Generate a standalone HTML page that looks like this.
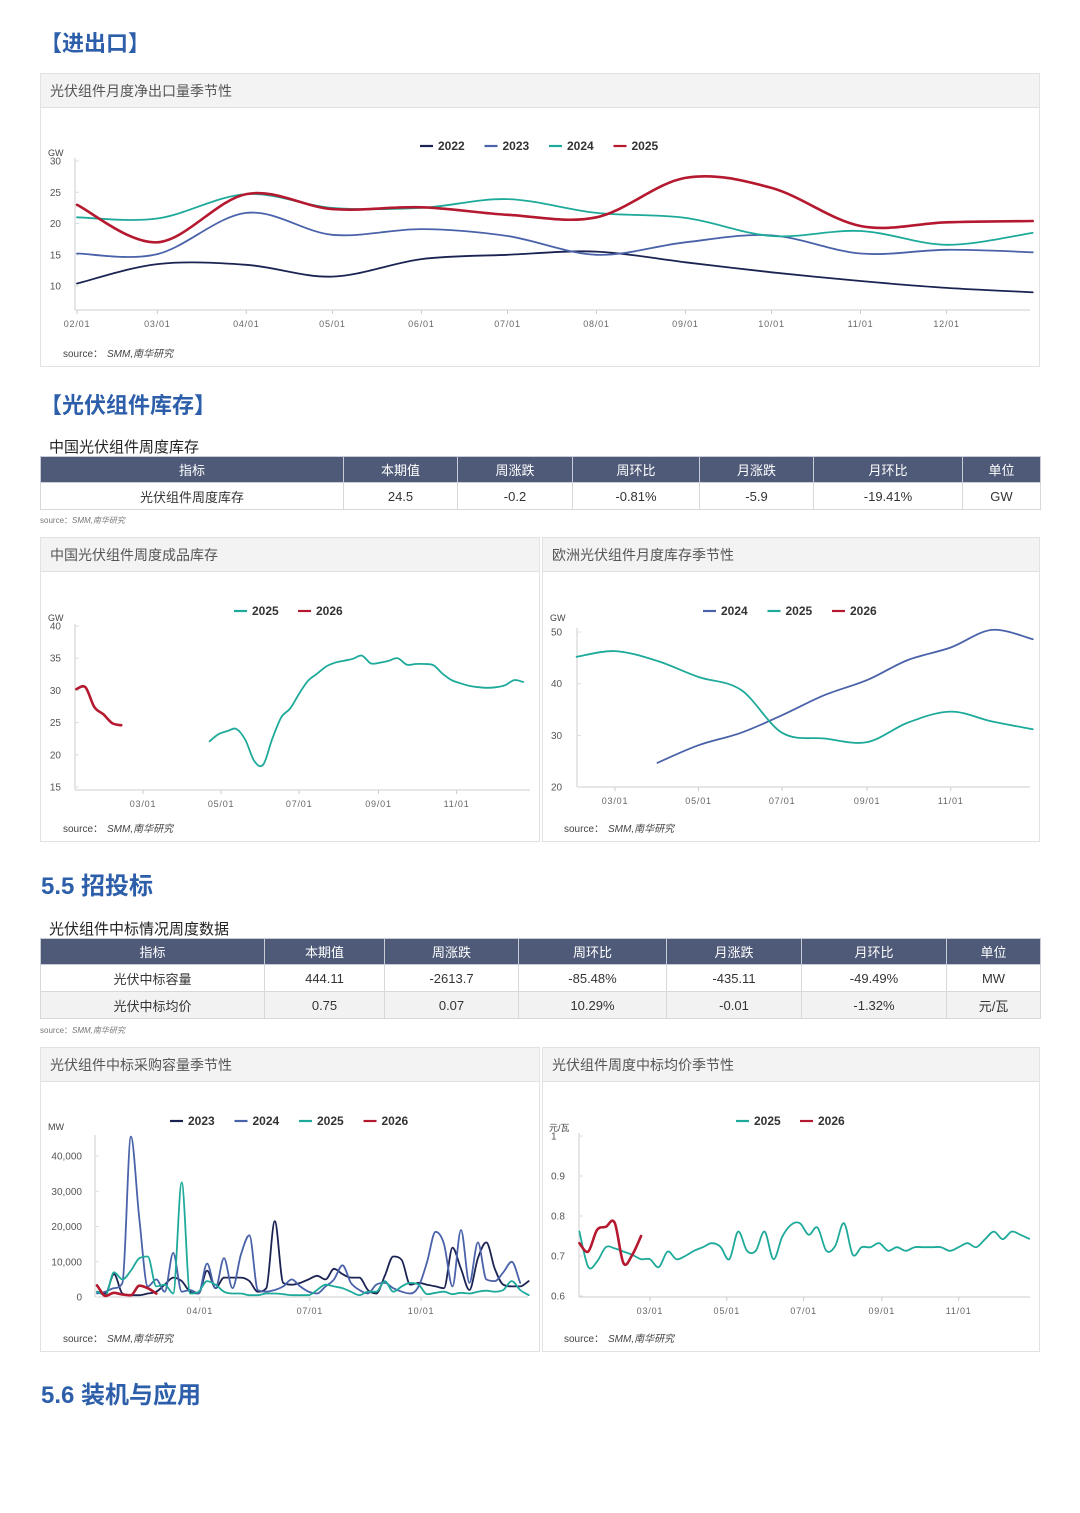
<!DOCTYPE html>
<html><head><meta charset="utf-8">
<style>
*{margin:0;padding:0;box-sizing:border-box}
body{width:1080px;height:1513px;background:#fff;position:relative;overflow:hidden;font-family:"Liberation Sans","Noto Sans CJK SC",sans-serif;color:#333}
.h1{position:absolute;font-weight:bold;color:#2d5ea9;font-size:22px;font-family:"Liberation Sans","Noto Sans CJK SC",sans-serif}
.panel{position:absolute;border:1px solid #e2e2e2;background:#fff}
.ph{position:absolute;left:0;top:0;right:0;height:34px;background:#f3f3f3;border-bottom:1px solid #e0e0e0;font-size:14px;color:#555;line-height:34px;padding-left:9px}
.tt{position:absolute;font-size:15px;color:#222}
.tbl{position:absolute;border-collapse:collapse;font-size:13px;table-layout:fixed}
.tbl th{background:#4e5a78;color:#fff;font-weight:normal;border:1px solid #c8ccd6;height:26px}
.tbl td{text-align:center;border:1px solid #d8d8d8;height:27px;color:#333}
.tbl tr.g td{background:#f2f2f2}
.src{position:absolute;font-size:8px;color:#777}
.src i{font-style:italic}
svg{position:absolute;left:0;top:0}
</style></head>
<body>
<div class="h1" style="left:40px;top:26px">【进出口】</div>
<div class="panel" style="left:40px;top:73px;width:1000px;height:294px"><div class="ph">光伏组件月度净出口量季节性</div></div>

<div class="h1" style="left:40px;top:388px">【光伏组件库存】</div>
<div class="tt" style="left:49px;top:436px">中国光伏组件周度库存</div>
<table class="tbl" style="left:40px;top:456px;width:1000px">
<colgroup><col style="width:303px"><col style="width:114px"><col style="width:115px"><col style="width:127px"><col style="width:114px"><col style="width:149px"><col style="width:78px"></colgroup>
<tr><th>指标</th><th>本期值</th><th>周涨跌</th><th>周环比</th><th>月涨跌</th><th>月环比</th><th>单位</th></tr>
<tr><td>光伏组件周度库存</td><td>24.5</td><td>-0.2</td><td>-0.81%</td><td>-5.9</td><td>-19.41%</td><td>GW</td></tr>
</table>
<div class="src" style="left:40px;top:515px">source：<i>SMM,南华研究</i></div>

<div class="panel" style="left:40px;top:537px;width:500px;height:305px"><div class="ph">中国光伏组件周度成品库存</div></div>
<div class="panel" style="left:542px;top:537px;width:498px;height:305px"><div class="ph">欧洲光伏组件月度库存季节性</div></div>

<div class="h1" style="left:41px;top:866px;font-size:24px">5.5 招投标</div>
<div class="tt" style="left:49px;top:918px">光伏组件中标情况周度数据</div>
<table class="tbl" style="left:40px;top:938px;width:1000px">
<colgroup><col style="width:224px"><col style="width:120px"><col style="width:134px"><col style="width:148px"><col style="width:135px"><col style="width:145px"><col style="width:94px"></colgroup>
<tr><th>指标</th><th>本期值</th><th>周涨跌</th><th>周环比</th><th>月涨跌</th><th>月环比</th><th>单位</th></tr>
<tr><td>光伏中标容量</td><td>444.11</td><td>-2613.7</td><td>-85.48%</td><td>-435.11</td><td>-49.49%</td><td>MW</td></tr>
<tr class="g"><td>光伏中标均价</td><td>0.75</td><td>0.07</td><td>10.29%</td><td>-0.01</td><td>-1.32%</td><td>元/瓦</td></tr>
</table>
<div class="src" style="left:40px;top:1025px">source：<i>SMM,南华研究</i></div>

<div class="panel" style="left:40px;top:1047px;width:500px;height:305px"><div class="ph">光伏组件中标采购容量季节性</div></div>
<div class="panel" style="left:542px;top:1047px;width:498px;height:305px"><div class="ph">光伏组件周度中标均价季节性</div></div>

<div class="h1" style="left:41px;top:1375px;font-size:24px">5.6 装机与应用</div>

<svg id="s" width="1080" height="1513"></svg>

<script>
const c1Days = [31,59,90,120,151,181,212,243,273,304,334,364];
const c1TickDays = [31,59,90,120,151,181,212,243,273,304,334];
const c1TickLabels = ['02/01','03/01','04/01','05/01','06/01','07/01','08/01','09/01','10/01','11/01','12/01'];
const c1YTicks = [10,15,20,25,30];
const c1Names = ['2022','2023','2024','2025'];
const c1_2022 = [10.4,13.5,13.4,11.5,14.3,15.0,15.5,13.8,12.2,10.8,9.7,9.0];
const c1_2023 = [15.2,15.1,21.7,18.2,19.1,18.0,15.0,17.0,18.1,15.2,15.8,15.4];
const c1_2024 = [21.0,20.8,24.7,22.5,22.5,23.9,21.7,20.9,18.0,18.8,16.6,18.5];
const c1_2025 = [23.0,17.0,24.7,22.3,22.6,21.4,21.0,27.3,25.7,19.6,20.2,20.4];

const c2TickDays = [59,120,181,243,304];
const c2TickLabels = ['03/01','05/01','07/01','09/01','11/01'];
const c2YTicks = [15,20,25,30,35,40];
const c2Names = ['2025','2026'];
const c2Start2025 = 111;
const c2_2025 = [22.1,23.2,23.7,24.0,22.3,19.0,18.5,22.5,25.8,27.2,29.5,31.5,32.6,33.7,34.3,34.6,34.9,35.4,34.2,34.3,34.6,35.0,34.0,34.1,34.1,33.9,32.6,31.6,31.1,30.7,30.5,30.4,30.5,30.8,31.6,31.3];
const c2Start2026 = 7;
const c2_2026 = [30.2,30.5,27.4,26.3,24.9,24.6];

const c3TickDays = [59,120,181,243,304];
const c3TickLabels = ['03/01','05/01','07/01','09/01','11/01'];
const c3YTicks = [20,30,40,50];
const c3Names = ['2024','2025','2026'];
const c3Days2024 = [90,120,151,181,212,243,273,304,334,364];
const c3_2024 = [24.7,28.1,30.5,33.9,37.8,40.7,44.6,47.0,50.4,48.6];
const c3Days2025 = [31,59,90,120,151,181,212,243,273,304,334,364];
const c3_2025 = [45.2,46.3,44.4,41.3,38.8,30.5,29.4,28.7,32.5,34.6,32.7,31.2];

const c4TickDays = [90,181,273];
const c4TickLabels = ['04/01','07/01','10/01'];
const c4YTicks = [0,10000,20000,30000,40000];
const c4YTickLabels = ['0','10,000','20,000','30,000','40,000'];
const c4Names = ['2023','2024','2025','2026'];
const c4Start = 5;
const c4_2023 = [1500,1000,6500,1000,500,500,1000,1500,3500,5500,4500,1500,1000,7500,2500,5500,5500,5500,4500,1500,2500,21500,4000,3500,4000,5000,6000,5000,8000,6500,5500,5500,2000,1000,6000,11500,10500,3500,4000,3500,3000,2500,14000,8000,2000,11000,15500,8000,3500,3000,3000,4500];
const c4_2024 = [1000,1500,2500,4000,45500,22000,3000,5000,1500,12500,1500,2000,1000,9500,2500,11000,2500,12000,17500,2000,1500,2000,3000,5000,3000,1500,1000,3000,5000,9000,4000,2000,1000,3500,4000,2500,1500,1000,3000,10000,18500,15000,3000,19000,4000,15500,5000,4500,7000,10000,4000];
const c4_2025 = [1500,500,7000,5000,7500,11000,11500,3000,3500,1000,32500,1000,1500,4500,3500,1500,1000,1000,500,500,1000,1000,800,500,500,500,2000,3500,3000,2500,1500,500,1500,1500,4500,1500,3000,4000,3500,800,1200,1500,800,1200,1000,1500,1800,1500,2000,4500,2000,500];
const c4_2026 = [3300,300,1200,700,500,3200,2500,1000];

const c5TickDays = [59,120,181,243,304];
const c5TickLabels = ['03/01','05/01','07/01','09/01','11/01'];
const c5YTicks = [0.6,0.7,0.8,0.9,1];
const c5YTickLabels = ['0.6','0.7','0.8','0.9','1'];
const c5Names = ['2025','2026'];
const c5Start = 3;
const c5_2025 = [0.761,0.673,0.686,0.722,0.719,0.711,0.703,0.692,0.692,0.672,0.711,0.692,0.700,0.713,0.722,0.732,0.723,0.692,0.761,0.713,0.713,0.761,0.692,0.748,0.778,0.782,0.753,0.771,0.713,0.725,0.782,0.703,0.722,0.722,0.732,0.713,0.722,0.713,0.722,0.722,0.722,0.722,0.713,0.722,0.732,0.722,0.742,0.761,0.742,0.761,0.753,0.743];
const c5_2026 = [0.732,0.711,0.765,0.773,0.783,0.682,0.703,0.750];

const COL = {navy:'#1b2352', blue:'#4a62a9', teal:'#1eaa9a', red:'#b5192f'};
const NS = 'http://www.w3.org/2000/svg';
const svg = document.getElementById('s');

function el(tag, attrs, parent){
  const e = document.createElementNS(NS, tag);
  for (const k in attrs) e.setAttribute(k, attrs[k]);
  (parent||svg).appendChild(e);
  return e;
}
function txt(x,y,s,size,anchor,fill,weight,parent){
  const t = el('text',{x:x,y:y,'font-size':size,'text-anchor':anchor||'start',fill:fill||'#555','font-family':'Liberation Sans, Noto Sans CJK SC, sans-serif','font-weight':weight||'normal'},parent);
  t.textContent = s;
  return t;
}
function smooth(p){
  let d = 'M'+p[0][0].toFixed(1)+','+p[0][1].toFixed(1);
  for (let i=0;i<p.length-1;i++){
    const p0=p[i-1]||p[i], p1=p[i], p2=p[i+1], p3=p[i+2]||p[i+1];
    const c1x=p1[0]+(p2[0]-p0[0])/6, c1y=p1[1]+(p2[1]-p0[1])/6;
    const c2x=p2[0]-(p3[0]-p1[0])/6, c2y=p2[1]-(p3[1]-p1[1])/6;
    d+=' C'+c1x.toFixed(1)+','+c1y.toFixed(1)+' '+c2x.toFixed(1)+','+c2y.toFixed(1)+' '+p2[0].toFixed(1)+','+p2[1].toFixed(1);
  }
  return d;
}
function monotone(p){
  const n=p.length, dx=[], sl=[], m=[];
  for(let i=0;i<n-1;i++){dx[i]=p[i+1][0]-p[i][0]; sl[i]=(p[i+1][1]-p[i][1])/dx[i];}
  m[0]=sl[0]; m[n-1]=sl[n-2];
  for(let i=1;i<n-1;i++){ m[i] = (sl[i-1]*sl[i]<=0)?0:(sl[i-1]+sl[i])/2; }
  for(let i=0;i<n-1;i++){
    if(sl[i]===0){m[i]=0;m[i+1]=0;continue;}
    const a=m[i]/sl[i], b=m[i+1]/sl[i], h=a*a+b*b;
    if(h>9){const t=3/Math.sqrt(h); m[i]=t*a*sl[i]; m[i+1]=t*b*sl[i];}
  }
  let d='M'+p[0][0].toFixed(1)+','+p[0][1].toFixed(1);
  for(let i=0;i<n-1;i++){
    const h=dx[i]/3;
    d+=' C'+(p[i][0]+h).toFixed(1)+','+(p[i][1]+m[i]*h).toFixed(1)+' '+(p[i+1][0]-h).toFixed(1)+','+(p[i+1][1]-m[i+1]*h).toFixed(1)+' '+p[i+1][0].toFixed(1)+','+p[i+1][1].toFixed(1);
  }
  return d;
}
function series(name, days, vals, X, Y, color, w, mono){
  const pts = vals.map((v,i)=>[X(days[i]),Y(v)]);
  const p = el('path',{d:mono?monotone(pts):smooth(pts),fill:'none',stroke:color,'stroke-width':w,'stroke-linejoin':'round','stroke-linecap':'round'});
  
  
}
function weekly(start,n){ const a=[]; for(let i=0;i<n;i++) a.push(start+7*i); return a; }
function axes(cfg){
  const g = el('g',{});
  
  
  el('line',{x1:cfg.x0,y1:cfg.yTop,x2:cfg.x0,y2:cfg.yBase,stroke:'#ccc','stroke-width':1},g);
  el('line',{x1:cfg.x0,y1:cfg.yBase,x2:cfg.x1,y2:cfg.yBase,stroke:'#ccc','stroke-width':1},g);
  cfg.yTicks.forEach((v,i)=>{
    const y = cfg.Y(v);
    el('line',{x1:cfg.x0,y1:y,x2:cfg.x0+4,y2:y,stroke:'#ddd','stroke-width':1},g);
    const lab = cfg.yLabels ? cfg.yLabels[i] : String(v);
    const t = txt(cfg.yLabX,y+3.5,lab,10,cfg.yAnchor||'end','#555','normal',g);
    
    
  });
  cfg.xTickDays.forEach((d,i)=>{
    const x = cfg.X(d);
    el('line',{x1:x,y1:cfg.yBase,x2:x,y2:cfg.yBase+4,stroke:'#ccc','stroke-width':1},g);
    const t = txt(x,cfg.yBase+17,cfg.xLabels[i],9,'middle','#666','normal',g);
    t.setAttribute('letter-spacing','0.8');
    
    
  });
  const u = txt(cfg.unitX,cfg.unitY,cfg.unit,9,'start','#444','normal',g);
  
  
  const s = txt(cfg.srcX,cfg.srcY,'source：',10,'start','#444','normal',g);
  
  
  const si = txt(cfg.srcX+44,cfg.srcY,'SMM,南华研究',10,'start','#444','normal',g);
  si.setAttribute('font-style','italic');
}
function legend(x0,y,names,colors,spacing){
  names.forEach((n,i)=>{
    const g = el('g',{});
    
    
    const x = x0 + i*spacing;
    el('line',{x1:x,y1:y-4,x2:x+13,y2:y-4,stroke:colors[i],'stroke-width':2.2},g);
    txt(x+18,y,n,12,'start','#333','bold',g);
  });
}

(function(){
  const X = d => 77 + (d-31)*2.87;
  const Y = v => 161 + (30-v)*6.25;
  axes({name:'net-export',x0:75,x1:1030,yTop:158,yBase:310,Y:Y,X:X,yTicks:c1YTicks,yLabX:61,xTickDays:c1TickDays,xLabels:c1TickLabels,unit:'GW',unitX:48,unitY:156,srcX:63,srcY:357});
  legend(420,150,c1Names,[COL.navy,COL.blue,COL.teal,COL.red],64.5);
  series('line-2022',c1Days,c1_2022,X,Y,COL.navy,1.8);
  series('line-2023',c1Days,c1_2023,X,Y,COL.blue,1.8);
  series('line-2024',c1Days,c1_2024,X,Y,COL.teal,1.8);
  series('line-2025',c1Days,c1_2025,X,Y,COL.red,2.6);
})();

(function(){
  const X = d => 143 + (d-59)*1.28;
  const Y = v => 626 + (40-v)*6.44;
  axes({name:'china-inventory',x0:75,x1:530,yTop:624,yBase:790,Y:Y,X:X,yTicks:c2YTicks,yLabX:61,xTickDays:c2TickDays,xLabels:c2TickLabels,unit:'GW',unitX:48,unitY:621,srcX:63,srcY:832});
  legend(234,615,c2Names,[COL.teal,COL.red],64);
  series('line-2025',weekly(c2Start2025,c2_2025.length),c2_2025,X,Y,COL.teal,1.8);
  series('line-2026',weekly(c2Start2026,c2_2026.length),c2_2026,X,Y,COL.red,2.6);
})();

(function(){
  const X = d => 615 + (d-59)*1.37;
  const Y = v => 632 + (50-v)*5.17;
  axes({name:'europe-inventory',x0:577,x1:1030,yTop:628,yBase:787,Y:Y,X:X,yTicks:c3YTicks,yLabX:551,yAnchor:'start',xTickDays:c3TickDays,xLabels:c3TickLabels,unit:'GW',unitX:550,unitY:621,srcX:564,srcY:832});
  legend(703,615,c3Names,[COL.blue,COL.teal,COL.red],64.5);
  series('line-2024',c3Days2024,c3_2024,X,Y,COL.blue,1.8);
  series('line-2025',c3Days2025,c3_2025,X,Y,COL.teal,1.8);
})();

(function(){
  const X = d => 91 + d*1.209;
  const Y = v => 1297 - v*0.003525;
  axes({name:'bid-capacity',x0:95,x1:528,yTop:1135,yBase:1297,Y:Y,X:X,yTicks:c4YTicks,yLabels:c4YTickLabels,yLabX:82,xTickDays:c4TickDays,xLabels:c4TickLabels,unit:'MW',unitX:48,unitY:1130,srcX:63,srcY:1342});
  legend(170,1125,c4Names,[COL.navy,COL.blue,COL.teal,COL.red],64.5);
  series('line-2023',weekly(c4Start,c4_2023.length),c4_2023,X,Y,COL.navy,1.8,true);
  series('line-2024',weekly(c4Start,c4_2024.length),c4_2024,X,Y,COL.blue,1.8,true);
  series('line-2025',weekly(c4Start,c4_2025.length),c4_2025,X,Y,COL.teal,1.8,true);
  series('line-2026',weekly(c4Start,c4_2026.length),c4_2026,X,Y,COL.red,2.6,true);
})();

(function(){
  const X = d => 575.6 + d*1.26;
  const Y = v => 1256 - (v-0.7)*400;
  axes({name:'bid-price',x0:579,x1:1030,yTop:1133,yBase:1297,Y:Y,X:X,yTicks:c5YTicks,yLabels:c5YTickLabels,yLabX:551,yAnchor:'start',xTickDays:c5TickDays,xLabels:c5TickLabels,unit:'元/瓦',unitX:549,unitY:1131,srcX:564,srcY:1342});
  legend(736,1125,c5Names,[COL.teal,COL.red],64);
  series('line-2025',weekly(c5Start,c5_2025.length),c5_2025,X,Y,COL.teal,1.8);
  series('line-2026',weekly(c5Start,c5_2026.length),c5_2026,X,Y,COL.red,2.6);
})();
</script>
</body></html>
